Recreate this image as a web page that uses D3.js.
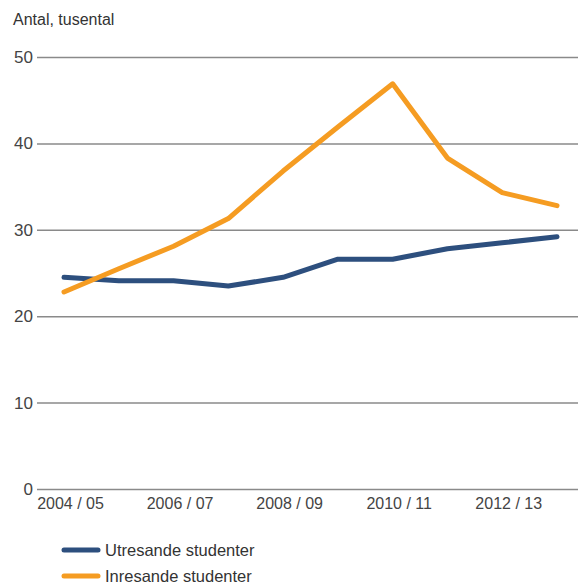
<!DOCTYPE html>
<html>
<head>
<meta charset="utf-8">
<script src="https://cdn.jsdelivr.net/npm/d3@7"></script>
<style>
  html, body { margin: 0; padding: 0; background: #fff; }
  svg { display: block; font-family: "Liberation Sans", Arial, sans-serif; }
</style>
</head>
<body>
<svg id="chart" width="578" height="583"></svg>
<script>
const categories = ["2004/05","2005/06","2006/07","2007/08","2008/09","2009/10","2010/11","2011/12","2012/13","2013/14"];
const utresande = [24.5, 24.1, 24.1, 23.5, 24.5, 26.6, 26.6, 27.8, 28.5, 29.2];
const inresande = [22.8, 25.5, 28.1, 31.3, 36.8, 41.9, 46.9, 38.3, 34.3, 32.8];
const yTicks = [0, 10, 20, 30, 40, 50];
const xTickLabels = ["2004/05","2006/07","2008/09","2010/11","2012/13"];
const seriesNames = ["Utresande studenter", "Inresande studenter"];
const colors = ["#2d4f7e", "#f59c22"];

const svg = d3.select("#chart");
const x = d3.scalePoint().domain(categories).range([64, 557]);
const y = d3.scaleLinear().domain([0, 50]).range([489, 57]);

// title
svg.append("text").attr("x", 13).attr("y", 25)
  .attr("font-size", 16).attr("fill", "#333").text("Antal, tusental");

// y axis / gridlines
const yAxis = d3.axisLeft(y).tickValues(yTicks).tickSize(-(578 - 37)).tickPadding(5).tickFormat(d3.format("d"));
const gy = svg.append("g").attr("transform", "translate(37,0)").call(yAxis);
gy.select(".domain").remove();
gy.selectAll(".tick line").attr("stroke", "#8a8a8a").attr("stroke-width", 1.5);
gy.selectAll(".tick text").attr("font-size", 17).attr("fill", "#444").attr("x", -4);

// x axis labels
const xAxis = d3.axisBottom(x).tickValues(xTickLabels).tickSize(0).tickPadding(9)
  .tickFormat(d => d.replace("/", " / "));
const gx = svg.append("g").attr("transform", "translate(0,489)").call(xAxis);
gx.select(".domain").remove();
gx.selectAll(".tick text").attr("font-size", 16).attr("fill", "#444").attr("transform", "translate(6,0)");

// lines
const line = d3.line().x((d, i) => x(categories[i])).y(d => y(d));
[utresande, inresande].forEach((s, k) => {
  svg.append("path").datum(s).attr("d", line)
    .attr("fill", "none").attr("stroke", colors[k]).attr("stroke-width", 5)
    .attr("stroke-linecap", "round").attr("stroke-linejoin", "round");
});

// legend
seriesNames.forEach((n, k) => {
  const ly = 550 + k * 26;
  svg.append("line").attr("x1", 64).attr("x2", 98).attr("y1", ly).attr("y2", ly)
    .attr("stroke", colors[k]).attr("stroke-width", 5).attr("stroke-linecap", "round");
  svg.append("text").attr("x", 105).attr("y", ly + 5.5).attr("font-size", 16.5).attr("fill", "#333").text(n);
});
</script>
</body>
</html>
